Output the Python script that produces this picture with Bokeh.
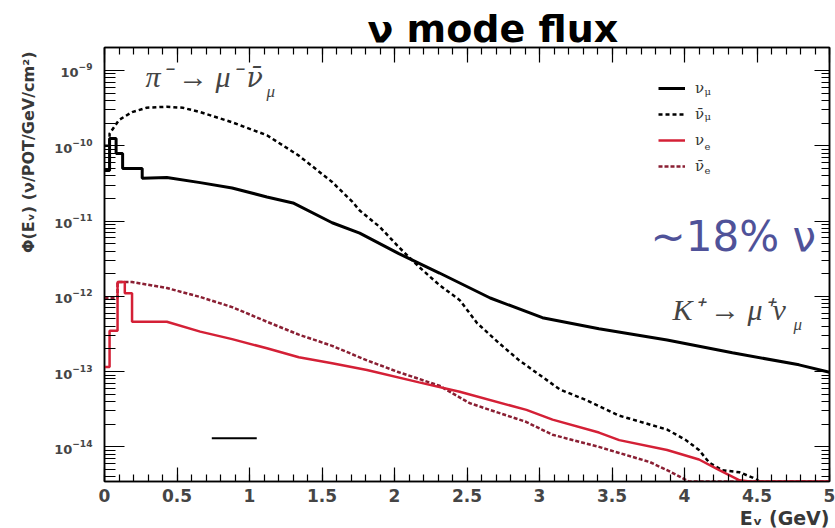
import math
from bokeh.plotting import figure
from bokeh.models import (Range1d, LogAxis, LinearAxis, FixedTicker, SingleIntervalTicker,
                          Label, Legend, LegendItem, CustomJSTickFormatter, Title)
from bokeh.embed import file_html
from bokeh.resources import INLINE

# ---------------- data ----------------
numu_E = [0.0, 0.035, 0.035, 0.08, 0.08, 0.125, 0.125, 0.26, 0.26, 0.43, 0.66, 0.88, 1.12,
          1.30, 1.57, 1.76, 2.03, 2.31, 2.66, 3.02, 3.41, 3.88, 4.33, 4.79, 5.0]
numu_flux = [4.7e-11, 4.7e-11, 1.25e-10, 1.25e-10, 7.9e-11, 7.9e-11, 5.0e-11, 5.0e-11, 3.7e-11,
             3.8e-11, 3.24e-11, 2.75e-11, 2.09e-11, 1.74e-11, 9.5e-12, 6.9e-12, 3.7e-12, 2.04e-12,
             9.5e-13, 5.2e-13, 3.7e-13, 2.63e-13, 1.78e-13, 1.23e-13, 9.8e-14]

numubar_E = [0.0, 0.035, 0.035, 0.10, 0.19, 0.29, 0.43, 0.54, 0.66, 0.88, 1.12, 1.34, 1.57, 1.71,
             1.76, 1.90, 2.03, 2.17, 2.31, 2.45, 2.57, 2.72, 2.86, 3.02, 3.14, 3.32, 3.55, 3.88,
             4.01, 4.10, 4.17, 4.26, 4.38, 4.47, 4.52]
numubar_flux = [1.0e-10, 1.0e-10, 1.45e-10, 2.2e-10, 2.8e-10, 3.2e-10, 3.3e-10, 3.2e-10, 2.8e-10,
                2.05e-10, 1.38e-10, 7.4e-11, 3.3e-11, 1.8e-11, 1.38e-11, 8.3e-12, 4.5e-12, 2.45e-12,
                1.41e-12, 8.9e-13, 4.4e-13, 2.4e-13, 1.41e-13, 8.5e-14, 5.8e-14, 4.2e-14, 2.6e-14,
                1.7e-14, 1.23e-14, 9.1e-15, 6.2e-15, 4.9e-15, 4.6e-15, 3.9e-15, 3.47e-15]

nue_E = [0.0, 0.035, 0.035, 0.09, 0.09, 0.14, 0.14, 0.19, 0.19, 0.43, 0.66, 0.88, 1.12, 1.34,
         1.57, 1.81, 2.17, 2.45, 2.91, 3.09, 3.41, 3.55, 3.88, 4.10, 4.24, 4.38, 4.45, 5.0]
nue_flux = [1.15e-13, 1.15e-13, 3.5e-13, 3.5e-13, 1.55e-12, 1.55e-12, 1.1e-12, 1.1e-12, 4.6e-13,
            4.6e-13, 3.4e-13, 2.7e-13, 2.04e-13, 1.55e-13, 1.29e-13, 1.05e-13, 7.2e-14, 5.4e-14,
            3.1e-14, 2.3e-14, 1.55e-14, 1.23e-14, 9.1e-15, 6.8e-15, 4.9e-15, 3.6e-15, 3.47e-15,
            3.47e-15]

nuebar_E = [0.0, 0.09, 0.09, 0.19, 0.43, 0.66, 0.88, 1.12, 1.34, 1.57, 1.81, 2.03, 2.31, 2.52,
            2.91, 3.09, 3.41, 3.55, 3.76, 3.88, 3.97, 4.03, 5.0]
nuebar_flux = [9.5e-13, 9.5e-13, 1.55e-12, 1.55e-12, 1.29e-12, 9.8e-13, 7.2e-13, 4.6e-13, 3.1e-13,
               2.2e-13, 1.41e-13, 9.8e-14, 6.5e-14, 3.8e-14, 2.14e-14, 1.45e-14, 1.0e-14, 8.3e-15,
               6.3e-15, 4.9e-15, 4.0e-15, 3.47e-15, 3.47e-15]

stray_E = [0.74, 1.05]
stray_flux = [1.3e-14, 1.3e-14]

x_tick_interval = 0.5
y_major_ticks = [1e-14, 1e-13, 1e-12, 1e-11, 1e-10, 1e-9]
y_minor_ticks = [m * d for d in [1e-15, 1e-14, 1e-13, 1e-12, 1e-11, 1e-10, 1e-9]
                 for m in [2, 3, 4, 5, 6, 7, 8, 9]]

legend_labels = ["ν", "ν\u0304", "ν", "ν\u0304"]
legend_subs = ["μ", "μ", "e", "e"]

X_MIN, X_MAX = 0.0, 5.0
Y_MIN, Y_MAX = 3.47e-15, 2.02e-9

# ---------------- layout ----------------
W, H = 835, 528
FL, FR, FT, FB = 104, 829, 47, 482     # frame edges (px)


def ex(px):
    return X_MIN + (px - FL) / (FR - FL) * (X_MAX - X_MIN)


def fy(py):
    l0, l1 = math.log10(Y_MIN), math.log10(Y_MAX)
    return 10 ** (l1 - (py - FT) / (FB - FT) * (l1 - l0))


p = figure(width=W, height=H, output_backend="svg", toolbar_location=None,
           x_range=Range1d(X_MIN, X_MAX), y_range=Range1d(Y_MIN, Y_MAX), y_axis_type="log",
           min_border_left=FL, min_border_right=W - FR, min_border_top=FT,
           min_border_bottom=H - FB)
p.xgrid.visible = False
p.ygrid.visible = False
p.background_fill_color = "white"
p.border_fill_color = "white"
p.outline_line_color = "black"
p.outline_line_width = 1.5

r_numu = p.line(numu_E, numu_flux, line_color="black", line_width=3)
r_numubar = p.line(numubar_E, numubar_flux, line_color="black", line_width=2.5, line_dash="4 3")
r_nuebar = p.line(nuebar_E, nuebar_flux, line_color="#8a1f33", line_width=2.5, line_dash="4 2")
r_nue = p.line(nue_E, nue_flux, line_color="#d42036", line_width=2.5)
p.line(stray_E, stray_flux, line_color="black", line_width=2)

# axes
sans = "DejaVu Sans"
xa = p.xaxis[0]
xa.ticker = SingleIntervalTicker(interval=x_tick_interval, num_minor_ticks=5)
ya = p.yaxis[0]
ya.ticker = FixedTicker(ticks=y_major_ticks, minor_ticks=y_minor_ticks)
for ax in (xa, ya):
    ax.axis_line_color = "black"
    ax.axis_line_width = 1.5
    ax.major_tick_line_color = "black"
    ax.minor_tick_line_color = "black"
    ax.major_tick_line_width = 1.2
    ax.minor_tick_line_width = 1.2
    ax.major_tick_out = 0
    ax.minor_tick_out = 0
    ax.major_label_text_font = sans
    ax.major_label_text_font_style = "bold"
    ax.major_label_text_color = "#454545"
xa.major_tick_in = 14
xa.minor_tick_in = 7
xa.major_label_text_font_size = "17px"
xa.major_label_standoff = 7
ya.major_tick_in = 20
ya.minor_tick_in = 11
ya.major_label_text_font_size = "13px"
ya.major_label_standoff = 12

blank = CustomJSTickFormatter(code="return ''")
top = LinearAxis(ticker=SingleIntervalTicker(interval=x_tick_interval, num_minor_ticks=5),
                 formatter=blank, major_label_text_font_size="8px", major_label_standoff=0,
                 major_tick_in=15, major_tick_out=0, minor_tick_in=7, minor_tick_out=0,
                 axis_line_width=1.5, major_tick_line_width=1.2, minor_tick_line_width=1.2)
p.add_layout(top, "above")
right = LogAxis(ticker=FixedTicker(ticks=y_major_ticks, minor_ticks=y_minor_ticks),
                formatter=blank, major_label_text_font_size="8px", major_label_standoff=0,
                major_tick_in=15, major_tick_out=0, minor_tick_in=8, minor_tick_out=0,
                axis_line_width=1.5, major_tick_line_width=1.2, minor_tick_line_width=1.2)
p.add_layout(right, "right")

# title and axis titles (as Title models so they sit outside the frame)
p.title.text = "ν mode flux"
p.title.align = "left"
p.title.offset = 263
p.title.standoff = -6
p.title.text_font = sans
p.title.text_font_style = "bold"
p.title.text_font_size = "38px"
p.title.text_color = "black"

p.add_layout(Title(text="Φ(Eᵥ) (ν/POT/GeV/cm²)", align="right", offset=4, standoff=27,
                   text_font=sans, text_font_style="bold",
                   text_font_size="16px", text_color="#383838"), "left")
p.add_layout(Title(text="Eᵥ (GeV)", align="right", standoff=0,
                   text_font=sans, text_font_style="bold",
                   text_font_size="19px", text_color="#383838"), "below")

# legend
legend = Legend(items=[LegendItem(label=legend_labels[0], renderers=[r_numu]),
                       LegendItem(label=legend_labels[1], renderers=[r_numubar]),
                       LegendItem(label=legend_labels[2], renderers=[r_nue]),
                       LegendItem(label=legend_labels[3], renderers=[r_nuebar])],
                location=(554, 305), orientation="vertical", glyph_width=27, glyph_height=20,
                label_height=20, spacing=6, padding=0, margin=0, label_standoff=10,
                border_line_color=None, background_fill_alpha=0,
                label_text_font="DejaVu Serif", label_text_font_size="15px",
                label_text_color="#333333")
p.add_layout(legend)
for row_y, sub in zip([89, 114, 142, 166], legend_subs):
    p.add_layout(Label(x=ex(704), y=fy(row_y + 8), text=sub, text_font="DejaVu Serif",
                       text_font_size="10px", text_color="#333333"))

# annotations
serif = "Liberation Serif"
p.add_layout(Label(x=ex(145), y=fy(93), text="π⁻ → μ⁻", text_font=serif,
                   text_font_style="italic", text_font_size="30px"))
p.add_layout(Label(x=ex(246), y=fy(93), text="ν\u0304", text_font="DejaVu Serif",
                   text_font_style="italic", text_font_size="27px"))
p.add_layout(Label(x=ex(266), y=fy(101), text="μ", text_font=serif,
                   text_font_style="italic", text_font_size="17px"))
p.add_layout(Label(x=ex(672), y=fy(326), text="K⁺ → μ⁺ν", text_font=serif,
                   text_font_style="italic", text_font_size="30px"))
p.add_layout(Label(x=ex(793), y=fy(334), text="μ", text_font=serif,
                   text_font_style="italic", text_font_size="17px"))
p.add_layout(Label(x=ex(650), y=fy(261), text="~18% ν", text_font=sans,
                   text_font_size="42px", text_color="#4f5299"))

open("out.html", "w").write(file_html(p, INLINE))
